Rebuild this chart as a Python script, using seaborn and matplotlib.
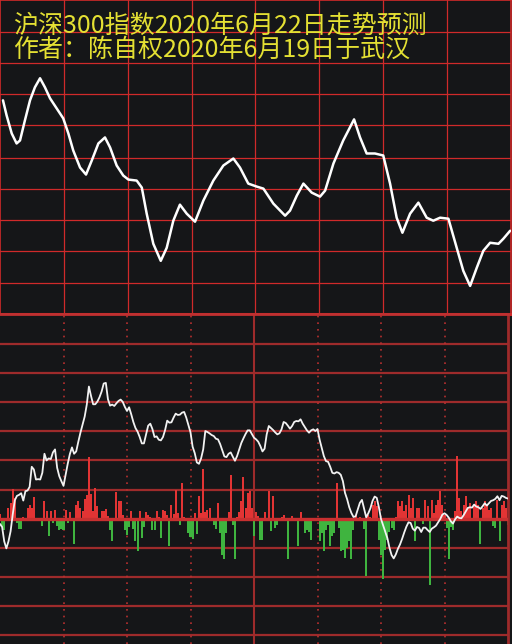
import numpy as np
import pandas as pd
import matplotlib
matplotlib.use("Agg")
import matplotlib.pyplot as plt
import seaborn as sns

sns.set_theme(style="dark")
plt.rcParams['font.family'] = ['Noto Sans CJK SC', 'DejaVu Sans']

# --- text ---
title_line1 = "沪深300指数2020年6月22日走势预测"
title_line2 = "作者：陈自权2020年6月19日于武汉"

# --- forecast curve (top panel), trading minute vs level ---
forecast_minute = [1.4, 3.1, 5.5, 7.8, 9.4, 11.7, 14.1, 16.4, 18.8, 21.1, 23.5, 26.6, 29.7,
                   32.1, 34.4, 37.6, 40.4, 43.1, 46.2, 49.3, 51.7, 54.8, 57.9, 60.3, 64.2,
                   66.6, 68.9, 72.0, 75.5, 78.3, 81.4, 84.5, 87.7, 91.6, 95.5, 100.2, 104.9,
                   109.6, 112.7, 116.6, 120.6, 123.7, 128.4, 133.9, 136.2, 139.4, 142.5,
                   146.4, 150.3, 152.7, 156.6, 161.2, 166.3, 169.1, 172.2, 176.1, 180.0,
                   183.2, 186.3, 189.0, 192.6, 196.5, 200.4, 203.5, 206.7, 210.6, 214.5,
                   217.6, 220.8, 223.9, 227.0, 230.2, 234.1, 236.4, 239.6]
forecast_level = [213, 198, 180, 170, 173, 193, 213, 226, 235, 226, 215, 205, 195,
                  180, 163, 146, 139, 153, 170, 176, 166, 148, 138, 134, 133,
                  126, 100, 70, 53, 66, 93, 109, 100, 92, 113, 133, 148,
                  155, 146, 130, 127, 125, 110, 98, 103, 118, 130,
                  121, 117, 123, 150, 173, 194, 176, 160, 160, 158,
                  130, 96, 81, 100, 111, 96, 93, 96, 95, 66,
                  43, 28, 46, 63, 71, 70, 75, 83]

# --- intraday line (bottom panel), one value per minute 0..240 ---
intraday_change = [
    -16, -25, -68, -89, -68, -38, 12, 55, 68, 71, 76, 54, 82, 84, 95, 155, 147, 117, 118, 117,
    137, 194, 174, 180, 178, 198, 207, 152, 127, 112, 98, 131, 164, 193, 213, 194, 201, 230, 257, 281,
    305, 341, 395, 367, 342, 342, 350, 363, 380, 404, 406, 357, 338, 341, 337, 345, 352, 356, 349, 334,
    322, 333, 312, 289, 271, 260, 244, 225, 225, 251, 278, 284, 268, 244, 246, 236, 234, 244, 265, 293,
    287, 288, 302, 314, 310, 311, 317, 319, 302, 280, 258, 215, 196, 168, 164, 180, 207, 262, 259, 255,
    250, 247, 239, 237, 223, 205, 186, 184, 194, 198, 185, 173, 187, 206, 226, 240, 253, 264, 264, 253,
    242, 237, 230, 217, 201, 209, 252, 277, 271, 265, 258, 252, 255, 267, 289, 286, 278, 269, 277, 289,
    292, 291, 297, 284, 274, 264, 257, 264, 267, 262, 268, 236, 212, 187, 172, 170, 155, 137, 135, 139,
    137, 131, 112, 77, 58, 34, 17, 5, 7, 27, 47, 56, 30, 4, 16, 31, 53, 66, 62, 34,
    -1, -20, -39, -58, -87, -109, -119, -107, -90, -77, -60, -41, -24, -11, -13, -30, -36, -25, -28, -40,
    -27, -27, -34, -40, -30, -26, -21, -11, -1, 12, 16, 11, 3, -8, -15, -2, 6, 2, 1, 10,
    21, 32, 34, 33, 42, 36, 34, 29, 37, 46, 39, 46, 53, 55, 59, 67, 55, 68, 66, 62,
    60]

# --- per-minute bars (red up / green down) ---
net_flow = [
    15, -25, -33, 0, 32, 47, 89, 62, -13, -31, -31, 5, -8, 32, 42, 32, 65, -6, -6, 0,
    -21, 52, 22, -53, 24, -13, 27, -21, -33, -30, -35, 27, -13, 19, -8, -75, 42, 52, 32, 22,
    59, 72, 185, 75, 22, 92, 37, -3, 24, 24, 29, 9, -35, -68, -8, 79, 52, 52, 12, -33,
    -48, -25, 22, -31, -68, -98, 24, -58, -25, 19, 12, 5, -33, -33, 22, 5, -58, 25, 22, 12,
    -81, 42, 15, 85, 17, -18, 107, 5, -8, -43, -55, -61, 17, -45, 69, 17, 147, 19, 27, 32,
    -5, -18, -31, 47, -43, -108, -121, -43, 19, 129, -18, -121, 5, 19, 52, 125, 32, 77, 82, 32,
    -53, 19, 8, -65, -63, 19, -8, 82, -38, 69, -28, -18, -8, 5, 12, -5, -121, -8, 9, 3,
    -5, -81, 19, -5, -43, -33, -41, -63, -3, -5, 3, -68, -43, -98, -33, -18, -81, -53, -43, 107,
    -28, -98, -93, -118, -88, -68, -121, -33, 12, 3, 5, -5, -31, -171, 12, 5, 42, 52, 37, -63,
    -108, -181, -93, -63, -41, -28, -33, 5, 52, 37, 52, 22, 42, 72, 32, 62, -68, 32, 32, 2,
    -15, 57, 37, -198, 57, 17, 42, 55, 82, 42, 12, -28, -121, -25, -33, 22, 187, 62, 22, 42,
    69, 32, 47, -8, 39, 52, 42, -75, 32, 52, 42, 27, 32, -23, -28, 57, -68, 42, 52, 32,
    -18]

BG = "#151618"
GRID_TOP = "#d02a2a"
GRID_BOT = "#9e2b2b"
RED = "#e23434"
GREEN = "#3fb43f"
YELLOW = "#e4e033"

minutes = np.arange(len(intraday_change))
flow_df = pd.DataFrame({"minute": minutes, "flow": net_flow})
flow_df["side"] = np.where(flow_df["flow"] >= 0, "up", "down")

fig = plt.figure(figsize=(5.12, 6.44), dpi=100, facecolor=BG)
ax_top = fig.add_axes([0, 330 / 644, 511 / 512, 314 / 644], facecolor=BG)
ax_bot = fig.add_axes([0, 0, 508 / 512, 330 / 644], facecolor=BG)

# --- top panel ---
sns.lineplot(x=forecast_minute, y=forecast_level, ax=ax_top, color="white",
             linewidth=1.8, estimator=None, sort=False, zorder=3)
ax_top.set_xlim(0, 240)
ax_top.set_ylim(0, 313)
ax_top.set_xticks([30, 60, 90, 120, 150, 180, 210])
ax_top.set_yticks([31, 63, 94, 125, 156, 188, 219, 250, 281])
ax_top.grid(True, color=GRID_TOP, linewidth=0.9)
ax_top.tick_params(length=0, labelleft=False, labelbottom=False)
ax_top.set_xlabel("")
ax_top.set_ylabel("")
for side, sp in ax_top.spines.items():
    sp.set_visible(True)
    sp.set_color(GRID_TOP)
    sp.set_linewidth(1.2)
ax_top.spines["bottom"].set_linewidth(2.2)

# --- bottom panel ---
sns.barplot(data=flow_df, x="minute", y="flow", hue="side",
            palette={"up": RED, "down": GREEN}, native_scale=True, dodge=False,
            width=0.95, saturation=1, linewidth=0, errorbar=None, legend=False,
            ax=ax_bot, zorder=2)
sns.lineplot(x=minutes, y=intraday_change, ax=ax_bot, color="#f2f2f2",
             linewidth=1.3, estimator=None, zorder=4)

for y in [-348, -261, -174, -87, 87, 174, 261, 348, 435, 522]:
    ax_bot.axhline(y, color=GRID_BOT, linewidth=1.6, zorder=1)
ax_bot.axhline(0, color="#c83030", linewidth=2.4, zorder=3)
for x in [30, 60, 90, 150, 180, 210]:
    ax_bot.axvline(x, color="#b83030", linewidth=1.2, linestyle=(0, (1, 3)), zorder=1)
ax_bot.axvline(120, color=GRID_BOT, linewidth=1.5, zorder=1)

ax_bot.set_xlim(0, 240)
ax_bot.set_ylim(-375, 612)
ax_bot.grid(False)
ax_bot.tick_params(length=0, labelleft=False, labelbottom=False)
ax_bot.set_xlabel("")
ax_bot.set_ylabel("")
for side in ["left", "bottom"]:
    ax_bot.spines[side].set_visible(False)
ax_bot.spines["top"].set_color("#c03030")
ax_bot.spines["top"].set_linewidth(2)
ax_bot.spines["right"].set_color(GRID_BOT)
ax_bot.spines["right"].set_linewidth(2)

# --- title text ---
fig.text(13 / 512, 1 - 33 / 644, title_line1, color=YELLOW, fontsize=18, va="baseline")
fig.text(13 / 512, 1 - 57 / 644, title_line2, color=YELLOW, fontsize=18, va="baseline")

fig.savefig("out.png", dpi=100, facecolor=BG)
